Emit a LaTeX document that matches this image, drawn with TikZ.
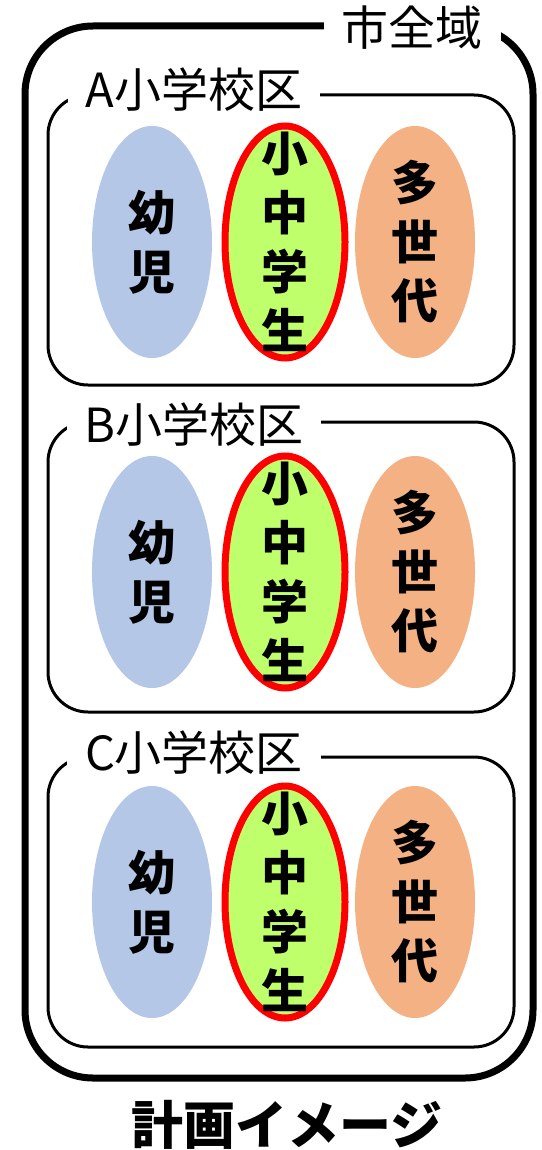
\documentclass[tikz,border=0pt]{standalone}
\usepackage{fontspec}
\setmainfont{Noto Sans CJK JP}
\usetikzlibrary{shapes.geometric}

\definecolor{kidblue}{HTML}{B4C7E7}
\definecolor{pupilgreen}{HTML}{C0FF6C}
\definecolor{agesorange}{HTML}{F4B183}

\tikzset{
  cityframe/.style={draw, line width=7, rounded corners=68, minimum width=508, minimum height=1052},
  districtframe/.style={draw, line width=3, rounded corners=40, minimum width=466, minimum height=290},
  framelabel/.style={fill=white, inner xsep=18, inner ysep=1, font=\fontsize{47}{47}\selectfont},
  group/.style={ellipse, inner sep=0, minimum width=120, minimum height=232},
  pupilgroup/.style={group, draw=red, line width=7, fill=pupilgreen, minimum width=120, minimum height=232},
  grouptext/.style={align=center, inner sep=0, font=\bfseries\fontsize{47}{59}\selectfont},
}

\begin{document}
\begin{tikzpicture}[x=1pt,y=-1pt]
    \useasboundingbox (0,0) rectangle (541,1150);

% city
    \node[cityframe] (city) at (279,552) {};
    \node[framelabel] (citylbl) at (412,28) {市全域};

% A
    \node[districtframe] (da) at (281,240) {};
    \node[framelabel] (dalbl) at (194,90) {A小学校区};
    \node[group, fill=kidblue] (kida) at (152,242) {};
    \node[pupilgroup] (pupila) at (285,242) {};
    \node[group, fill=agesorange] (agesa) at (415,242) {};
    \node[grouptext] at (kida.center) {幼\\児};
    \node[grouptext] at (pupila.center) {小\\中\\学\\生};
    \node[grouptext] at (agesa.center) {多\\世\\代};

% B
    \node[districtframe] (db) at (281,567) {};
    \node[framelabel] (dblbl) at (194,425) {B小学校区};
    \node[group, fill=kidblue] (kidb) at (152,572) {};
    \node[pupilgroup] (pupilb) at (285,572) {};
    \node[group, fill=agesorange] (agesb) at (415,572) {};
    \node[grouptext] at (kidb.center) {幼\\児};
    \node[grouptext] at (pupilb.center) {小\\中\\学\\生};
    \node[grouptext] at (agesb.center) {多\\世\\代};

% C
    \node[districtframe] (dc) at (281,902) {};
    \node[framelabel] (dclbl) at (194,753) {C小学校区};
    \node[group, fill=kidblue] (kidc) at (152,902) {};
    \node[pupilgroup] (pupilc) at (285,902) {};
    \node[group, fill=agesorange] (agesc) at (415,902) {};
    \node[grouptext] at (kidc.center) {幼\\児};
    \node[grouptext] at (pupilc.center) {小\\中\\学\\生};
    \node[grouptext] at (agesc.center) {多\\世\\代};

    \node[font=\bfseries\fontsize{52}{52}\selectfont] (title) at (287,1125) {計画イメージ};

\end{tikzpicture}
\end{document}
